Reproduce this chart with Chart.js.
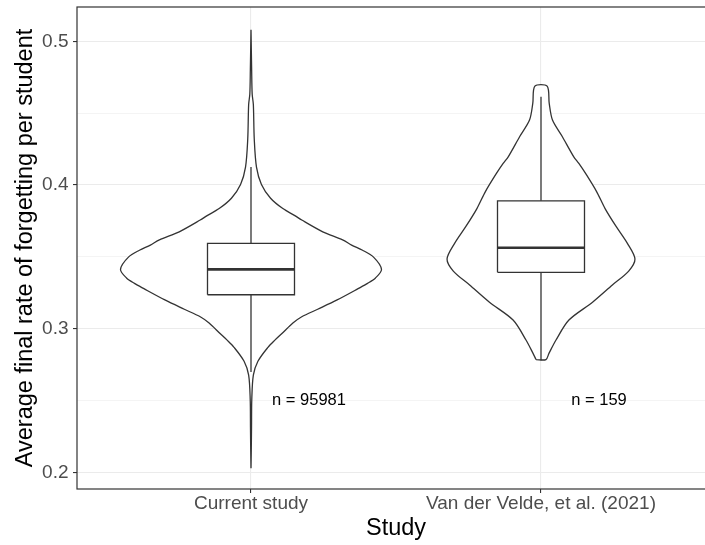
<!DOCTYPE html>
<html>
<head>
<meta charset="utf-8">
<script src="https://cdn.jsdelivr.net/npm/chart.js@4.4.0/dist/chart.umd.min.js"></script>
<style>
  html, body { margin: 0; padding: 0; background: #fff; overflow: hidden; }
  #wrap { width: 705px; height: 545px; overflow: hidden; }
  #violin-chart { width: 715px; height: 545px; }
</style>
</head>
<body>
<div id="wrap"><canvas id="violin-chart" width="715" height="545"></canvas></div>
<script>
// Categories and counts
const studies = ["Current study", "Van der Velde, et al. (2021)"];
const counts = [95981, 159];

// Boxplot stats (whisker low, Q1, median, Q3, whisker high)
const whiskerLow = [0.2698, 0.2781];
const boxQ1 = [0.3236, 0.3392];
const boxMedian = [0.3413, 0.3563];
const boxQ3 = [0.3594, 0.389];
const whiskerHigh = [0.4125, 0.4614];

// Violin outlines: value along y and relative half width
const currentViolinY = [0.2028, 0.215, 0.2315, 0.2508, 0.2676, 0.2773, 0.287, 0.292, 0.2966, 0.3039, 0.3083, 0.3135, 0.32, 0.328, 0.3315, 0.3353, 0.3413, 0.3498, 0.3546, 0.3582, 0.3618, 0.3674, 0.3756, 0.3787, 0.3836, 0.3908, 0.4004, 0.4125, 0.4319, 0.456, 0.4633, 0.48, 0.508];
const currentViolinW = [0, 0.002, 0.004, 0.006, 0.018, 0.053, 0.13, 0.183, 0.237, 0.321, 0.389, 0.511, 0.66, 0.824, 0.893, 0.954, 1.0, 0.939, 0.855, 0.771, 0.702, 0.55, 0.389, 0.336, 0.244, 0.15, 0.08, 0.042, 0.025, 0.018, 0.009, 0.005, 0];
const vdvViolinY = [0.2785, 0.2828, 0.2921, 0.306, 0.3184, 0.3304, 0.3401, 0.3485, 0.3594, 0.3715, 0.3836, 0.3956, 0.4077, 0.415, 0.4198, 0.4336, 0.4452, 0.4568, 0.4688];
const vdvViolinW = [0.038, 0.061, 0.115, 0.214, 0.395, 0.547, 0.672, 0.72, 0.662, 0.573, 0.491, 0.425, 0.344, 0.29, 0.25, 0.164, 0.088, 0.063, 0.047];

// Axis ticks
const yTicks = [0.2, 0.3, 0.4, 0.5];
const yMinorTicks = [0.25, 0.35, 0.45];

const Y_MIN = 0.1884;
const Y_MAX = 0.5239;
const VIOLIN_HALF = 0.45;
const BOX_HALF = 0.15;
const N_LABEL_SHIFT = 0.2;
const N_LABEL_Y = 0.25;
const INK = "#333333";

Chart.defaults.font.family = '"Liberation Sans", Arial, Helvetica, sans-serif';

function violinPoints(center, ys, ws) {
  const left = ys.map((y, i) => ({ x: center - ws[i] * VIOLIN_HALF, y: y }));
  const right = ys.map((y, i) => ({ x: center + ws[i] * VIOLIN_HALF, y: y })).reverse();
  const pts = left.concat(right);
  pts.push(pts[0]);
  return pts;
}

const violins = [
  violinPoints(1, currentViolinY, currentViolinW),
  violinPoints(2, vdvViolinY, vdvViolinW),
];

const datasets = [];
studies.forEach((name, i) => {
  const c = i + 1;
  datasets.push({
    label: name + " violin",
    data: violins[i],
    borderColor: INK,
    borderWidth: 1.3,
    backgroundColor: "#FFFFFF",
    fill: "shape",
    tension: 0.3,
    pointRadius: 0,
    order: 3,
  });
  datasets.push({
    label: name + " whiskers",
    data: [{ x: c, y: whiskerLow[i] }, { x: c, y: whiskerHigh[i] }],
    borderColor: INK,
    borderWidth: 1.3,
    pointRadius: 0,
    fill: false,
    order: 2,
  });
  datasets.push({
    label: name + " box",
    data: [
      { x: c - BOX_HALF, y: boxQ1[i] },
      { x: c + BOX_HALF, y: boxQ1[i] },
      { x: c + BOX_HALF, y: boxQ3[i] },
      { x: c - BOX_HALF, y: boxQ3[i] },
      { x: c - BOX_HALF, y: boxQ1[i] },
    ],
    borderColor: INK,
    borderWidth: 1.3,
    backgroundColor: "#FFFFFF",
    fill: "shape",
    pointRadius: 0,
    order: 1,
  });
  datasets.push({
    label: name + " median",
    data: [{ x: c - BOX_HALF, y: boxMedian[i] }, { x: c + BOX_HALF, y: boxMedian[i] }],
    borderColor: INK,
    borderWidth: 2.6,
    pointRadius: 0,
    fill: false,
    order: 0,
  });
});

function isMajor(v) {
  return yTicks.some((t) => Math.abs(t - v) < 1e-9);
}

// Panel border and n = ... labels
const panelExtras = {
  id: "panelExtras",
  afterDraw(chart) {
    const { ctx, chartArea: a } = chart;
    const xs = chart.scales.x;
    const ys = chart.scales.y;
    ctx.save();
    ctx.strokeStyle = INK;
    ctx.lineWidth = 1.2;
    ctx.strokeRect(a.left, a.top, a.right - a.left, a.bottom - a.top);
    ctx.fillStyle = "#000000";
    ctx.font = '16.5px "Liberation Sans", Arial, Helvetica, sans-serif';
    ctx.textAlign = "center";
    ctx.textBaseline = "middle";
    counts.forEach((n, i) => {
      ctx.fillText("n = " + n, xs.getPixelForValue(i + 1 + N_LABEL_SHIFT), ys.getPixelForValue(N_LABEL_Y));
    });
    ctx.restore();
  },
};

const ctx = document.getElementById("violin-chart").getContext("2d");
window.violinChart = new Chart(ctx, {
  type: "line",
  data: { datasets: datasets },
  plugins: [panelExtras],
  options: {
    responsive: false,
    animation: false,
    events: [],
    layout: { padding: { top: 7, left: 0, right: 0, bottom: 0 } },
    scales: {
      x: {
        type: "linear",
        min: 0.4,
        max: 2.6,
        afterBuildTicks: (s) => {
          s.ticks = studies.map((_, i) => ({ value: i + 1 }));
        },
        afterFit: (s) => {
          s.height = 56;
          s.paddingLeft = 0;
          s.paddingRight = 0;
        },
        ticks: {
          callback: (v) => studies[Math.round(v) - 1] || "",
          color: "#4D4D4D",
          font: { size: 19 },
          padding: -1,
          maxRotation: 0,
          autoSkip: false,
        },
        grid: {
          color: "#EBEBEB",
          lineWidth: 1.1,
          tickColor: INK,
          tickLength: 4,
          tickWidth: 1.1,
        },
        border: { display: false },
        title: {
          display: true,
          text: "Study",
          color: "#000000",
          font: { size: 23.5 },
          padding: { top: 0, bottom: 2.6 },
        },
      },
      y: {
        type: "linear",
        min: Y_MIN,
        max: Y_MAX,
        afterBuildTicks: (s) => {
          s.ticks = yTicks.concat(yMinorTicks).sort((a, b) => a - b).map((v) => ({ value: v }));
        },
        afterFit: (s) => {
          s.width = 77;
          s.paddingTop = 0;
          s.paddingBottom = 0;
        },
        ticks: {
          callback: (v) => (isMajor(v) ? v.toFixed(1) : ""),
          color: "#4D4D4D",
          font: { size: 19 },
          padding: 4.5,
          autoSkip: false,
        },
        grid: {
          color: "#EBEBEB",
          lineWidth: (c) => (c.tick && isMajor(c.tick.value) ? 1.1 : 0.55),
          tickColor: (c) => (c.tick && isMajor(c.tick.value) ? INK : "rgba(0,0,0,0)"),
          tickLength: 4,
          tickWidth: 1.1,
        },
        border: { display: false },
        title: {
          display: true,
          text: "Average final rate of forgetting per student",
          color: "#000000",
          font: { size: 23.5 },
          padding: { top: 11, bottom: 0 },
        },
      },
    },
    plugins: {
      legend: { display: false },
      tooltip: { enabled: false },
    },
  },
});
</script>
</body>
</html>
